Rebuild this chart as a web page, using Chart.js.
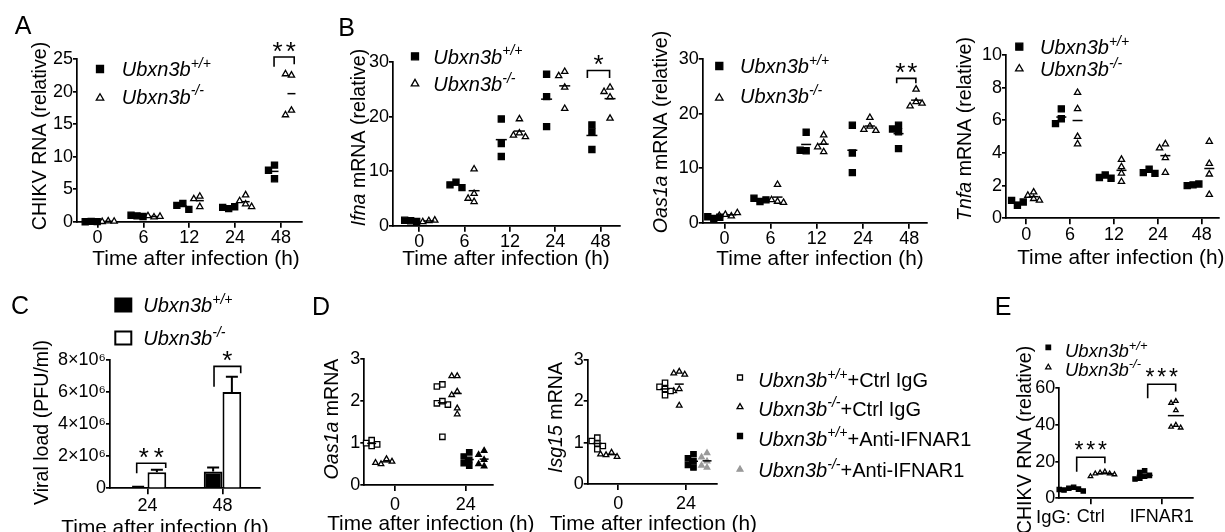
<!DOCTYPE html>
<html>
<head>
<meta charset="utf-8">
<script src="https://cdn.jsdelivr.net/npm/chart.js@4.4.1/dist/chart.umd.min.js"></script>
<style>
  html, body { margin: 0; padding: 0; background: #fff; }
  #wrap { position: relative; width: 1225px; height: 532px; overflow: hidden; }
  #wrap canvas { position: absolute; left: 0; top: 0; }
</style>
</head>
<body>
<div id="wrap"></div>
<script>
const FONT = '"Liberation Sans", Arial, Helvetica, sans-serif';
const W = 1225, H = 532;

// ---- data ----
const hours = ['0', '6', '12', '24', '48'];

// A: CHIKV RNA (relative)
const chikvWT = [[0.05, 0, 0.02], [0.9, 1.0, 0.8], [2.8, 2.5, 1.9], [2.0, 2.2, 2.3], [8.7, 7.9, 6.6]];
const chikvKO = [[0.1, 0, 0.05], [0.7, 0.9, 0.8], [3.9, 3.5, 2.3], [4.1, 3.2, 2.7, 2.3], [22.5, 22.7, 17.1, 16.4]];

// B: Ifna / Oas1a / Tnfa mRNA (relative)
const ifnaWT = [[0.9, 1.0, 0.8], [8.0, 7.5, 7.0], [19.6, 15.1, 12.7], [27.8, 23.7, 18.2], [18.5, 17.2, 14.0]];
const ifnaKO = [[0.9, 0.7, 1.0], [10.4, 5.9, 5.0, 4.4], [19.6, 17.0, 16.6, 16.3], [28.3, 27.5, 25.4, 21.5], [25.4, 24.6, 23.6, 19.7]];
const oasWT = [[0.8, 1.1, 1.0], [3.9, 4.5, 4.2], [16.6, 13.2, 13.3], [17.9, 12.8, 9.2], [17.9, 17.2, 16.7, 13.6]];
const oasKO = [[1.2, 1.5, 1.8, 1.3], [7.0, 3.9, 4.2, 3.7], [16.1, 14.7, 13.9, 13.0], [19.3, 17.7, 17.1, 16.9], [24.5, 22.2, 21.4, 21.9]];
const tnfWT = [[0.8, 1.1, 1.0], [6.7, 6.1, 5.8], [2.65, 2.5, 2.45], [3.0, 2.8, 2.75], [2.05, 2.0, 2.1]];
const tnfKO = [[1.6, 1.4, 1.2, 1.1], [7.7, 6.7, 5.0, 4.55], [3.6, 3.15, 2.75, 2.25], [4.55, 4.3, 3.7, 2.8], [4.7, 3.35, 2.7, 1.45]];

// C: viral load (PFU/ml), mean and SD
const loadHours = ['24', '48'];
const loadWT = [0.06e6, 1.05e6];
const loadWTsd = [0.03e6, 0.25e6];
const loadKO = [1.0e6, 6.0e6];
const loadKOsd = [0.15e6, 0.95e6];

// D: Oas1a / Isg15 mRNA, ctrl IgG vs anti-IFNAR1
const dHours = ['0', '24'];
const oasCtrlWT = [[1.07, 0.93, 1.0, 0.97], [2.4, 2.35, 2.0, 1.95, 1.92, 1.15]];
const oasCtrlKO = [[0.62, 0.5, 0.56, 0.53], [2.6, 2.6, 2.23, 2.15, 1.83, 1.69]];
const oasAntiWT = [null, [0.78, 0.68, 0.6, 0.52, 0.46]];
const oasAntiKO = [null, [0.82, 0.72, 0.6, 0.5, 0.45]];
const isgCtrlWT = [[1.12, 1.04, 0.98, 0.92, 0.84], [2.45, 2.35, 2.3, 2.25, 2.15]];
const isgCtrlKO = [[0.76, 0.7, 0.66, 0.72], [2.72, 2.68, 2.65, 2.3, 2.25, 1.9]];
const isgAntiWT = [null, [0.72, 0.62, 0.55, 0.46, 0.4]];
const isgAntiKO = [null, [0.75, 0.65, 0.55, 0.45, 0.4]];

// E: CHIKV RNA (relative) by IgG
const iggCats = ['Ctrl', 'IFNAR1'];
const eWT = [[6.0, 5.5, 5.0, 4.5, 4.0, 4.8], [15.0, 14.0, 12.5, 12.0, 11.0, 10.5]];
const eKO = [[14.5, 14.0, 13.5, 13.5, 13.0, 12.0], [53, 52, 48, 40, 39, 38.5]];

// ---- styles ----
const SQ = { pointStyle: 'rect', fill: '#000', stroke: '#000' };
const SQ_OPEN = { pointStyle: 'rect', fill: '#fff', stroke: '#000' };
const TRI = { pointStyle: 'triangle', fill: '#000', stroke: '#000' };
const TRI_OPEN = { pointStyle: 'triangle', fill: '#fff', stroke: '#000' };
const TRI_GREY = { pointStyle: 'triangle', fill: '#9a9a9a', stroke: '#9a9a9a' };
const WT_LBL = [['Ubxn3b', 'i'], ['+/+', 'is']];
const KO_LBL = [['Ubxn3b', 'i'], ['-/-', 'is']];
const XT = 20.8, YT = 19.6;   // axis title sizes (figure is slightly wider than tall)
const ROT = -Math.PI / 2;

Chart.defaults.font.family = FONT;
Chart.defaults.color = '#000';

const mean = (a) => a.reduce((s, v) => s + v, 0) / a.length;
const fnt = (size, italic) => (italic ? 'italic ' : '') + size + 'px ' + FONT;

function richWidth(ctx, parts, size) {
  let w = 0;
  for (const [t, f = ''] of parts) {
    ctx.font = fnt(f.includes('s') ? size * 0.7 : size, f.includes('i'));
    w += ctx.measureText(t).width;
  }
  return w;
}

// y is the vertical centre of the capitals
function drawRich(ctx, parts, x, y, size, align, rot) {
  ctx.save();
  ctx.translate(x, y);
  if (rot) ctx.rotate(rot);
  const w = richWidth(ctx, parts, size);
  let cx = align === 'left' ? 0 : align === 'right' ? -w : -w / 2;
  ctx.textAlign = 'left';
  ctx.textBaseline = 'alphabetic';
  ctx.fillStyle = '#000';
  for (const [t, f = ''] of parts) {
    const sup = f.includes('s');
    ctx.font = fnt(sup ? size * 0.7 : size, f.includes('i'));
    ctx.fillText(t, cx, size * 0.36 - (sup ? size * 0.42 : 0));
    cx += ctx.measureText(t).width;
  }
  ctx.restore();
}

function drawMarker(ctx, m, x, y) {
  ctx.save();
  ctx.fillStyle = m.fill;
  ctx.strokeStyle = m.stroke || '#000';
  ctx.lineWidth = m.lw || 1.3;
  ctx.beginPath();
  if (m.shape === 'tri') {
    ctx.moveTo(x, y - m.r);
    ctx.lineTo(x + m.r * 0.866, y + m.r / 2);
    ctx.lineTo(x - m.r * 0.866, y + m.r / 2);
    ctx.closePath();
  } else {
    ctx.rect(x - m.w / 2, y - m.h / 2, m.w, m.h);
  }
  ctx.fill();
  ctx.stroke();
  ctx.restore();
}

function drawBracket(ch, b) {
  const ctx = ch.ctx, xs = ch.scales.x, ys = ch.scales.y;
  const x1 = xs.getPixelForValue(b.x[0]), x2 = xs.getPixelForValue(b.x[1]);
  const top = ys.getPixelForValue(b.top);
  ctx.save();
  ctx.strokeStyle = '#000';
  ctx.lineWidth = 1.6;
  ctx.beginPath();
  ctx.moveTo(x1, ys.getPixelForValue(b.legs[0]));
  ctx.lineTo(x1, top);
  ctx.lineTo(x2, top);
  ctx.lineTo(x2, ys.getPixelForValue(b.legs[1]));
  ctx.stroke();
  const size = b.size || 26, pitch = b.pitch || 12.5, n = b.stars.length;
  ctx.font = size + 'px ' + FONT;
  ctx.textAlign = 'center';
  ctx.textBaseline = 'alphabetic';
  ctx.fillStyle = '#000';
  const cx = (x1 + x2) / 2, cy = top - 12;
  for (let i = 0; i < n; i++) ctx.fillText(b.stars[i], cx + (i - (n - 1) / 2) * pitch, cy + size * 0.575);
  ctx.restore();
}

function drawExtras(ch, p) {
  const ctx = ch.ctx;
  (p.texts || []).forEach(t => drawRich(ctx, t.parts, t.x, t.y, t.size || (t.rot ? YT : XT), t.align || 'center', t.rot || 0));
  (p.legend || []).forEach(l => {
    drawMarker(ctx, l.m, l.mx, l.my || l.y);
    drawRich(ctx, l.parts, l.tx, l.y, l.size || 20, 'left');
  });
  (p.brackets || []).forEach(b => drawBracket(ch, b));
}

// spread points sideways when they would overlap (GraphPad-like scatter)
function swarm(vals, centre, pxX, pxY, gap) {
  const placed = [];
  return vals.map(v => {
    for (let k = 0; k < 15; k++) {
      const n = k === 0 ? 0 : (k % 2 ? -Math.ceil(k / 2) : k / 2);
      const dx = n * gap;
      if (placed.every(q => Math.abs(q.dx - dx) >= gap * 0.99 || Math.abs(q.py - v * pxY) >= gap)) {
        placed.push({ dx, py: v * pxY });
        return centre + dx / pxX;
      }
    }
    return centre;
  });
}

function makeCanvas() {
  const c = document.createElement('canvas');
  c.width = W; c.height = H;
  c.style.width = W + 'px'; c.style.height = H + 'px';
  document.getElementById('wrap').appendChild(c);
  return c;
}

function axis(extra, tl) {
  return Object.assign({
    grid: { drawOnChartArea: false, drawTicks: true, tickLength: tl, color: '#000', lineWidth: 1.7 },
    border: { display: true, color: '#000', width: 1.7 }
  }, extra);
}

const YW = 60, XH = 30;

function layoutFor(box) {
  return { padding: { left: box.L - YW, right: W - box.R, top: box.T, bottom: H - box.B - XH } };
}

function dotPanel(p) {
  const { box, xr, yr } = p;
  const pxX = (box.R - box.L) / (xr[1] - xr[0]);
  const pxY = (box.B - box.T) / (yr[1] - yr[0]);
  const datasets = [];
  p.groups.forEach(g => {
    g.vals.forEach((vals, i) => {
      if (!vals) return;
      const c = i + g.off;
      const xs = swarm(vals, c, pxX, pxY, p.gap);
      datasets.push({
        data: vals.map((v, k) => ({ x: xs[k], y: v })),
        pointStyle: g.style.pointStyle, pointRadius: p.r[g.style.pointStyle],
        pointBackgroundColor: g.style.fill, pointBorderColor: g.style.stroke, pointBorderWidth: 1.3,
        order: 1, clip: false
      });
      datasets.push({
        data: [{ x: c, y: mean(vals) }],
        pointStyle: 'line', pointRadius: p.meanR, pointBorderColor: '#000', pointBorderWidth: 1.5,
        order: 0, clip: false
      });
    });
  });
  new Chart(makeCanvas(), {
    type: 'scatter',
    data: { datasets },
    options: {
      responsive: false, animation: false, events: [],
      layout: layoutFor(box),
      plugins: { legend: { display: false }, tooltip: { enabled: false } },
      scales: {
        x: axis({
          type: 'linear', min: xr[0], max: xr[1],
          afterBuildTicks: s => { s.ticks = p.cats.map((_, i) => ({ value: i })); },
          afterFit: s => { s.height = XH; },
          ticks: { callback: v => p.cats[v], font: { size: 18 }, color: '#000', padding: p.xpad, autoSkip: false, maxRotation: 0 }
        }, 6),
        y: axis({
          type: 'linear', min: yr[0], max: yr[1],
          afterFit: s => { s.width = YW; },
          ticks: { stepSize: p.step, font: { size: 18 }, color: '#000', padding: 0 }
        }, 4)
      }
    },
    plugins: [{ id: 'extras', afterDraw: ch => drawExtras(ch, p) }]
  });
}

// ---- A ----
dotPanel({
  cats: hours, box: { L: 77, R: 302, T: 59, B: 221.7 }, xr: [-0.45, 4.46], yr: [0, 25], step: 5,
  gap: 6, r: { rect: 4.3, triangle: 3.6 }, meanR: 4, xpad: 0,
  groups: [{ vals: chikvWT, off: -0.14, style: SQ }, { vals: chikvKO, off: 0.23, style: TRI_OPEN }],
  texts: [
    { parts: [['A']], x: 23, y: 25, size: 25 },
    { parts: [['CHIKV RNA (relative)']], x: 39, y: 136, rot: ROT },
    { parts: [['Time after infection (h)']], x: 196, y: 258 }
  ],
  legend: [
    { m: { shape: 'rect', w: 7, h: 7, fill: '#000' }, mx: 100, tx: 121.7, y: 69, parts: WT_LBL },
    { m: { shape: 'tri', r: 4.3, fill: '#fff' }, mx: 100, my: 98, tx: 121.7, y: 96.5, parts: KO_LBL }
  ],
  brackets: [{ x: [3.85, 4.29], top: 25.3, legs: [23.8, 24.2], stars: '**', pitch: 13.3 }]
});

// ---- B: Ifna ----
dotPanel({
  cats: hours, box: { L: 393, R: 620, T: 62.3, B: 225.7 }, xr: [-0.58, 4.43], yr: [0, 30], step: 10,
  gap: 6, r: { rect: 4.3, triangle: 3.6 }, meanR: 5.5, xpad: 0,
  groups: [{ vals: ifnaWT, off: -0.19, style: SQ }, { vals: ifnaKO, off: 0.21, style: TRI_OPEN }],
  texts: [
    { parts: [['B']], x: 346.7, y: 26.5, size: 25 },
    { parts: [['Ifna', 'i'], [' mRNA (relative)']], x: 358, y: 137.5, rot: ROT },
    { parts: [['Time after infection (h)']], x: 506, y: 258 }
  ],
  legend: [
    { m: { shape: 'rect', w: 7, h: 7, fill: '#000' }, mx: 415, tx: 433.3, y: 56.3, parts: WT_LBL },
    { m: { shape: 'tri', r: 4.3, fill: '#fff' }, mx: 415, tx: 433.3, y: 83.7, parts: KO_LBL }
  ],
  brackets: [{ x: [3.71, 4.2], top: 28.5, legs: [27.1, 27.1], stars: '*' }]
});

// ---- B: Oas1a ----
dotPanel({
  cats: hours, box: { L: 702.7, R: 926.7, T: 59.3, B: 222.7 }, xr: [-0.47, 4.38], yr: [0, 30], step: 10,
  gap: 6, r: { rect: 4.3, triangle: 3.6 }, meanR: 5, xpad: 0,
  groups: [{ vals: oasWT, off: -0.23, style: SQ }, { vals: oasKO, off: 0.15, style: TRI_OPEN }],
  texts: [
    { parts: [['Oas1a', 'i'], [' mRNA (relative)']], x: 660, y: 132, rot: ROT },
    { parts: [['Time after infection (h)']], x: 820, y: 257.5 }
  ],
  legend: [
    { m: { shape: 'rect', w: 7, h: 7, fill: '#000' }, mx: 719.3, tx: 740, y: 66, parts: WT_LBL },
    { m: { shape: 'tri', r: 4.3, fill: '#fff' }, mx: 719.3, my: 98, tx: 740, y: 96, parts: KO_LBL }
  ],
  brackets: [{ x: [3.73, 4.145], top: 26.5, legs: [25.6, 25.6], stars: '**', pitch: 12 }]
});

// ---- B: Tnfa ----
dotPanel({
  cats: hours, box: { L: 1006, R: 1225, T: 55, B: 218.3 }, xr: [-0.46, 4.38], yr: [0, 10], step: 2,
  gap: 6, r: { rect: 4.3, triangle: 3.6 }, meanR: 5, xpad: 0,
  groups: [{ vals: tnfWT, off: -0.2, style: SQ }, { vals: tnfKO, off: 0.17, style: TRI_OPEN }],
  texts: [
    { parts: [['Tnfa', 'i'], [' mRNA (relative)']], x: 964, y: 129, rot: ROT },
    { parts: [['Time after infection (h)']], x: 1120.8, y: 256.7 }
  ],
  legend: [
    { m: { shape: 'rect', w: 7, h: 7, fill: '#000' }, mx: 1019.3, tx: 1040, y: 46.7, parts: WT_LBL },
    { m: { shape: 'tri', r: 4.3, fill: '#fff' }, mx: 1019.3, tx: 1040, y: 68.8, parts: KO_LBL }
  ]
});

// ---- C: viral load bars ----
(function () {
  const box = { L: 110, R: 260, T: 360, B: 488.3 };
  const extras = {
    texts: [
      { parts: [['C']], x: 20, y: 305, size: 25 },
      { parts: [['Viral load (PFU/ml)']], x: 40.8, y: 422.5, rot: ROT },
      { parts: [['Time after infection (h)']], x: 165, y: 526.7 }
    ],
    legend: [
      { m: { shape: 'rect', w: 16, h: 13, fill: '#000', lw: 2 }, mx: 123.3, tx: 143.3, y: 305, parts: WT_LBL },
      { m: { shape: 'rect', w: 16, h: 13, fill: '#fff', lw: 2 }, mx: 123.3, tx: 143.3, y: 338, parts: KO_LBL }
    ],
    brackets: [
      { x: [-0.144, 0.243], top: 1.56e6, legs: [0.94e6, 1.27e6], stars: '**', pitch: 15 },
      { x: [0.887, 1.243], top: 7.6e6, legs: [6.33e6, 7.17e6], stars: '*' }
    ]
  };
  const errorBars = {
    id: 'errorBars',
    afterDatasetsDraw(ch) {
      const ctx = ch.ctx, ys = ch.scales.y;
      ch.data.datasets.forEach((ds, i) => {
        ch.getDatasetMeta(i).data.forEach((el, j) => {
          const yTop = ys.getPixelForValue(ds.data[j] + ds.sd[j]);
          ctx.save();
          ctx.strokeStyle = '#000';
          ctx.lineWidth = 2;
          ctx.beginPath();
          ctx.moveTo(el.x, el.y);
          ctx.lineTo(el.x, yTop);
          ctx.moveTo(el.x - 6, yTop);
          ctx.lineTo(el.x + 6, yTop);
          ctx.stroke();
          ctx.restore();
        });
      });
    }
  };
  new Chart(makeCanvas(), {
    type: 'bar',
    data: {
      labels: loadHours,
      datasets: [
        { data: loadWT, sd: loadWTsd, backgroundColor: '#000', borderColor: '#000', borderWidth: 2 },
        { data: loadKO, sd: loadKOsd, backgroundColor: '#fff', borderColor: '#000', borderWidth: 2 }
      ]
    },
    options: {
      responsive: false, animation: false, events: [],
      layout: layoutFor(box),
      datasets: { bar: { categoryPercentage: 0.5, barPercentage: 1 } },
      plugins: { legend: { display: false }, tooltip: { enabled: false } },
      scales: {
        x: axis({
          grid: { offset: false, drawOnChartArea: false, drawTicks: true, tickLength: 6, color: '#000', lineWidth: 1.7 },
          afterFit: s => { s.height = XH; },
          ticks: { font: { size: 18 }, color: '#000', padding: 1 }
        }, 6),
        y: axis({
          min: 0, max: 8e6,
          afterFit: s => { s.width = YW; },
          ticks: { stepSize: 2e6, font: { size: 18 }, color: '#000', padding: 0,
            callback: v => v === 0 ? '0' : (v / 1e6) + '×10⁶' }
        }, 4)
      }
    },
    plugins: [errorBars, { id: 'extras', afterDraw: ch => drawExtras(ch, extras) }]
  });
})();

// ---- D: Oas1a ----
dotPanel({
  cats: dHours, box: { L: 364.3, R: 493.3, T: 359.3, B: 485 }, xr: [-0.434, 1.39], yr: [0, 3], step: 1,
  gap: 5.5, r: { rect: 3.8, triangle: 3.2 }, meanR: 4.5, xpad: 3,
  groups: [
    { vals: oasCtrlWT, off: -0.33, style: SQ_OPEN },
    { vals: oasCtrlKO, off: -0.12, style: TRI_OPEN },
    { vals: oasAntiWT, off: 0.05, style: SQ },
    { vals: oasAntiKO, off: 0.26, style: TRI }
  ],
  texts: [
    { parts: [['D']], x: 321, y: 305.5, size: 25 },
    { parts: [['Oas1a', 'i'], [' mRNA']], x: 331, y: 419, rot: ROT },
    { parts: [['Time after infection (h)']], x: 430.8, y: 523 }
  ]
});

// ---- D: Isg15 + legend ----
dotPanel({
  cats: dHours, box: { L: 587.7, R: 716.7, T: 360, B: 484 }, xr: [-0.452, 1.453], yr: [0, 3], step: 1,
  gap: 5.5, r: { rect: 3.8, triangle: 3.2 }, meanR: 4.5, xpad: 3,
  groups: [
    { vals: isgCtrlWT, off: -0.31, style: SQ_OPEN },
    { vals: isgCtrlKO, off: -0.1, style: TRI_OPEN },
    { vals: isgAntiWT, off: 0.11, style: SQ },
    { vals: isgAntiKO, off: 0.31, style: TRI_GREY }
  ],
  texts: [
    { parts: [['Isg15', 'i'], [' mRNA']], x: 555, y: 417.5, rot: ROT },
    { parts: [['Time after infection (h)']], x: 653.3, y: 523 }
  ],
  legend: [
    { m: { shape: 'rect', w: 5, h: 5, fill: '#fff' }, mx: 740, my: 377.5, tx: 758.3, y: 380, parts: [['Ubxn3b', 'i'], ['+/+', 'is'], ['+Ctrl IgG']] },
    { m: { shape: 'tri', r: 3.4, fill: '#fff' }, mx: 740, my: 407, tx: 758.3, y: 408.3, parts: [['Ubxn3b', 'i'], ['-/-', 'is'], ['+Ctrl IgG']] },
    { m: { shape: 'rect', w: 5, h: 5, fill: '#000' }, mx: 740, my: 436, tx: 758.3, y: 438.3, parts: [['Ubxn3b', 'i'], ['+/+', 'is'], ['+Anti-IFNAR1']] },
    { m: { shape: 'tri', r: 3.4, fill: '#9a9a9a', stroke: '#9a9a9a' }, mx: 740, my: 469.5, tx: 758.3, y: 469.7, parts: [['Ubxn3b', 'i'], ['-/-', 'is'], ['+Anti-IFNAR1']] }
  ]
});

// ---- E ----
dotPanel({
  cats: iggCats, box: { L: 1059.3, R: 1192.7, T: 388.3, B: 498.3 }, xr: [-0.442, 1.437], yr: [0, 60], step: 20,
  gap: 4.8, r: { rect: 3, triangle: 2.6 }, meanR: 8, xpad: 1.5,
  groups: [{ vals: eWT, off: -0.24, style: SQ }, { vals: eKO, off: 0.2, style: TRI_OPEN }],
  texts: [
    { parts: [['E']], x: 1003, y: 306, size: 25 },
    { parts: [['CHIKV RNA (relative)']], x: 1024, y: 440, rot: ROT },
    { parts: [['IgG:']], x: 1071, y: 516.7, size: 18.5, align: 'right' }
  ],
  legend: [
    { m: { shape: 'rect', w: 4.5, h: 4.5, fill: '#000' }, mx: 1048.3, my: 347.3, tx: 1065, y: 350.7, parts: WT_LBL, size: 18.5 },
    { m: { shape: 'tri', r: 3, fill: '#fff' }, mx: 1048.3, my: 367.3, tx: 1065, y: 369.3, parts: KO_LBL, size: 18.5 }
  ],
  brackets: [
    { x: [-0.197, 0.2], top: 22.4, legs: [14.5, 19.1], stars: '***', pitch: 11.7, size: 23 },
    { x: [0.803, 1.197], top: 62.2, legs: [54.6, 58.2], stars: '***', pitch: 11.7, size: 23 }
  ]
});
</script>
</body>
</html>
